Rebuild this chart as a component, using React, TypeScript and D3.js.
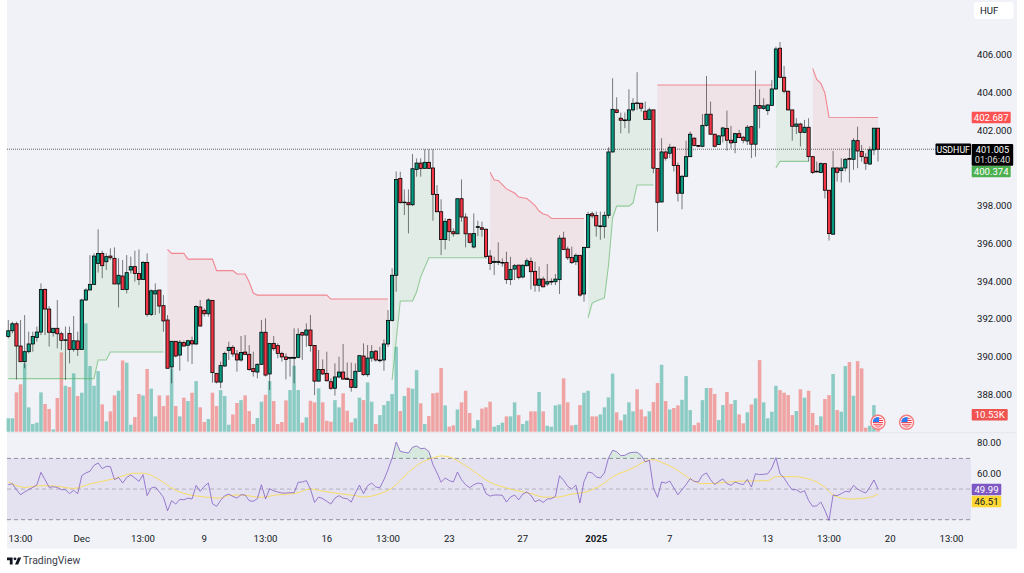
import React, { useMemo } from "react";
import * as d3 from "d3";

const opens = [
391.07,391.38,391.75,390.57,389.74,390.27,390.68,391.03,391.31,393.57,
392.53,391.28,391.51,391.22,390.87,391.24,390.39,390.84,390.39,393.01,
393.54,393.84,394.95,395.48,395.04,395.34,395.22,393.86,394.28,393.57,
394.60,394.78,394.42,394.10,395.00,392.25,393.33,393.54,392.71,391.95,
389.46,390.82,390.09,390.75,390.61,390.85,390.68,392.64,392.46,392.28,
392.99,389.12,388.66,389.51,390.34,390.50,390.15,389.83,390.25,390.13,
389.37,389.19,389.60,391.30,389.09,390.71,390.59,390.18,389.99,389.92,
389.92,389.97,391.28,391.15,391.42,390.60,388.71,389.33,389.12,388.68,
388.33,388.93,389.19,388.86,388.80,388.38,389.23,390.04,389.05,389.93,
390.30,389.79,389.83,390.68,391.93,394.32,399.46,398.17,398.17,398.06,
399.93,400.27,399.99,400.31,400.01,398.61,397.69,396.22,397.28,396.63,
396.52,398.38,397.41,396.52,395.82,396.86,396.84,396.76,395.34,395.00,
395.00,394.97,395.00,394.09,394.65,394.86,394.23,394.83,395.06,394.53,
393.79,394.12,393.86,393.96,393.98,394.09,396.29,395.71,395.27,395.04,
395.38,393.33,395.80,397.58,397.49,396.90,396.90,397.50,400.86,403.09,
402.65,402.52,402.54,403.09,403.46,403.44,403.02,402.58,403.09,399.98,
398.21,400.86,400.79,401.11,400.14,398.67,399.57,400.61,401.59,401.20,
401.16,402.27,402.86,401.80,401.25,401.71,402.11,401.48,401.36,401.83,
401.64,401.44,402.20,401.27,403.32,403.16,403.05,403.33,404.20,406.36,
404.82,404.08,403.09,402.22,402.34,401.90,402.17,400.61,399.84,399.77,
400.24,398.83,396.50,400.01,399.87,400.01,400.51,400.47,401.46,400.89,
400.58,400.22,400.97,402.12];

const closes = [
391.38,391.75,390.57,389.74,390.27,390.68,391.07,391.31,393.57,392.53,
391.30,391.51,391.22,390.87,390.90,390.39,390.85,390.39,393.01,393.54,
393.84,395.34,395.48,394.83,395.31,395.25,393.86,394.32,393.57,394.46,
394.78,394.42,394.10,395.00,392.25,393.50,393.50,392.69,391.90,389.39,
390.82,390.04,390.77,390.57,390.85,390.68,392.67,391.63,392.28,393.01,
389.16,388.66,389.53,390.18,390.50,390.15,389.83,390.23,390.13,389.32,
389.21,389.60,391.30,389.03,390.71,390.43,390.18,389.99,389.86,389.97,
389.97,391.19,391.15,391.42,390.59,388.71,389.33,389.09,388.73,388.33,
388.93,389.19,388.82,388.80,388.38,389.23,390.06,389.05,389.93,390.27,
389.83,389.83,390.68,391.93,394.32,399.40,398.17,398.20,398.06,399.97,
400.27,399.99,400.31,399.99,398.61,397.69,396.22,397.18,396.63,396.52,
398.38,397.41,396.52,396.07,396.54,396.90,396.76,395.32,394.95,395.06,
395.06,395.00,394.09,394.63,394.83,394.21,394.85,395.09,394.51,393.80,
394.12,393.71,393.98,394.00,394.12,396.29,395.69,395.25,394.99,395.38,
393.27,395.80,397.55,397.47,396.94,396.94,397.50,400.86,403.12,402.95,
402.54,402.56,403.09,403.44,403.44,403.18,402.58,403.09,400.00,398.19,
400.86,400.53,401.11,400.14,398.67,399.57,400.61,401.80,401.20,401.16,
402.27,402.86,401.80,401.16,401.71,402.13,401.48,401.34,401.83,401.62,
401.48,402.17,401.27,403.32,403.18,403.30,403.35,404.20,406.32,404.82,
404.08,403.09,402.22,402.34,401.90,402.17,400.61,399.77,399.80,400.24,
398.83,396.53,400.01,399.78,400.01,400.47,400.47,401.46,400.91,400.61,
400.26,400.97,402.12,401.005];

const highs = [
391.95,391.86,391.86,391.95,392.21,391.33,391.33,391.60,393.89,393.63,
392.69,391.51,393.01,391.33,391.60,391.60,392.16,391.33,393.08,393.63,
395.39,395.48,396.76,395.62,395.48,395.75,395.80,395.22,395.13,395.39,
395.31,395.62,395.69,395.08,395.48,393.57,393.89,393.54,393.27,392.21,
390.82,390.82,390.89,390.85,390.89,391.07,392.74,393.01,392.57,393.10,
393.01,389.12,389.74,390.27,390.80,390.62,390.36,391.10,391.15,390.62,
390.27,389.65,391.95,392.04,390.71,391.10,390.71,390.27,390.18,389.97,
391.51,391.51,391.33,391.77,392.21,390.62,390.36,389.86,390.27,388.86,
389.65,390.00,390.68,389.70,389.69,389.65,390.06,390.71,390.62,390.62,
390.36,390.53,390.92,392.48,394.69,399.83,399.81,398.87,398.87,400.75,
400.52,400.52,401.00,401.00,401.00,399.10,398.35,397.34,397.34,396.81,
398.40,399.40,397.60,396.54,397.60,397.21,397.16,396.81,395.66,395.30,
396.07,395.22,395.57,395.30,394.92,394.86,394.92,395.22,395.27,395.04,
394.78,394.25,394.92,394.16,394.39,396.45,396.63,395.84,395.84,395.48,
395.38,395.84,397.69,397.70,397.70,397.70,397.70,401.11,404.77,403.76,
402.95,402.95,404.18,403.71,405.09,403.48,403.53,403.21,403.09,399.98,
401.59,400.93,401.29,401.15,400.30,399.64,401.46,401.94,401.64,401.23,
402.87,404.89,403.53,401.82,401.76,402.20,403.05,402.24,401.88,402.03,
401.71,402.29,402.24,405.17,404.18,403.71,403.40,404.68,406.44,406.69,
405.42,404.11,403.09,402.65,402.41,402.56,402.65,400.65,400.35,400.31,
400.26,398.85,400.91,400.05,400.53,400.53,401.05,401.59,402.20,401.23,
400.79,401.15,402.12,402.12];

const lows = [
390.98,391.24,388.80,389.74,389.39,390.18,390.27,390.80,391.15,391.15,
390.54,391.07,390.45,390.36,388.77,389.65,390.27,390.04,390.36,392.96,
393.54,393.80,394.46,394.16,394.60,395.13,393.86,392.62,393.54,393.36,
394.42,393.98,393.80,394.07,392.13,392.16,392.21,392.30,391.33,389.39,
388.59,389.97,389.26,390.54,389.74,389.62,390.62,391.60,392.13,392.13,
388.63,388.59,388.33,389.47,389.83,390.00,389.21,389.74,390.09,389.26,
388.95,388.86,389.56,388.95,388.24,390.32,389.92,389.74,388.80,388.95,
388.59,389.92,389.83,390.53,390.27,387.97,388.68,389.03,388.68,388.24,
387.94,388.86,388.77,388.77,388.15,388.33,389.21,389.00,388.94,389.74,
389.74,389.70,389.26,390.53,391.86,393.45,398.13,397.51,396.54,397.99,
399.55,399.55,399.99,399.99,397.21,397.66,395.39,395.69,396.14,396.37,
396.51,397.16,395.80,396.01,395.75,396.40,396.37,395.22,394.60,394.33,
394.86,394.78,393.86,393.80,394.07,394.10,394.16,394.78,393.57,393.45,
393.45,393.68,393.75,393.80,393.80,393.33,395.66,395.13,394.92,394.86,
393.19,392.92,395.75,397.34,396.37,396.20,396.29,397.34,400.83,402.91,
401.85,402.12,401.85,403.00,403.09,403.00,402.56,402.56,399.73,396.64,
398.18,400.40,400.53,399.82,398.23,397.82,399.52,400.58,401.15,401.11,
401.11,402.20,401.76,401.11,401.23,401.36,400.93,401.05,400.79,401.59,
401.32,401.23,400.53,400.61,402.11,403.09,402.82,403.30,404.15,404.77,
403.97,403.05,401.46,401.81,401.15,401.85,400.35,399.69,399.77,399.73,
398.40,396.16,396.46,399.29,399.24,399.82,399.24,399.91,400.00,400.35,
399.91,400.17,400.70,400.35];

const volumes = [
8.3,8.3,24.4,29.4,42.4,15.1,4.8,5.6,24.4,17.2,
14.1,1.4,20.9,49.2,28.5,27.7,36.2,22.1,24.2,67.2,
40.7,28.5,37.6,16.9,6.4,12.6,22.5,25.4,44.2,42.8,
4.3,9.1,23.4,22.5,38.9,26.7,9.5,22.5,15.9,22.5,
39.3,15.9,9.5,21.1,19.0,24.2,31.4,15.1,6.0,7.9,
24.2,15.9,25.8,22.1,4.3,10.7,17.8,19.6,22.5,12.8,
4.8,8.5,18.6,22.9,31.4,19.0,4.8,6.0,19.4,25.8,
40.9,25.8,5.6,8.9,19.2,18.2,26.9,18.2,6.8,6.2,
19.6,15.1,23.8,13.0,5.8,8.3,21.1,19.6,30.6,18.6,
4.8,10.3,16.5,19.0,23.4,52.7,12.8,22.1,27.3,26.7,
38.2,17.6,4.8,9.7,23.8,24.2,39.5,16.3,3.1,3.9,
13.8,18.2,25.4,11.6,2.1,7.2,14.3,15.1,18.6,3.1,
4.1,5.6,9.5,9.5,18.2,10.3,4.8,6.8,12.6,12.6,
24.6,12.6,3.7,3.1,16.3,16.9,33.1,18.2,3.9,4.3,
16.5,24.2,25.4,9.5,9.5,10.7,15.1,21.3,36.0,12.0,
7.0,10.7,18.2,12.6,26.3,13.8,9.5,12.6,18.4,30.2,
41.5,19.0,13.8,14.7,16.3,19.8,34.5,13.4,4.1,5.6,
19.6,27.1,27.1,23.4,7.2,16.5,24.6,17.2,19.6,10.7,
5.2,12.0,16.9,20.7,44.4,18.2,8.3,12.4,28.5,25.8,
24.2,22.7,10.3,12.8,26.3,21.1,25.4,11.6,4.1,9.5,
20.3,22.7,35.8,13.4,12.4,40.7,43.2,22.3,43.8,39.3,
2.5,3.7,16.5,10.53];

const rsi = [
52.8,53.5,49.6,46.3,48.1,49.6,51.1,52.8,60.9,56.1,
51.1,51.5,51.1,49.6,49.6,47.0,49.1,47.0,58.7,60.5,
61.6,65.5,67.0,63.3,64.8,64.6,56.1,57.6,53.9,57.6,
59.2,57.2,55.0,59.4,45.7,50.7,51.3,48.1,44.6,35.8,
42.4,40.2,43.3,43.0,44.1,43.5,52.4,48.5,51.8,53.9,
40.4,38.7,42.6,45.7,46.7,45.2,44.1,46.3,46.1,42.4,
42.0,43.7,52.8,43.5,50.2,48.9,48.1,47.4,47.4,47.6,
47.6,54.4,54.6,55.5,50.0,41.3,44.8,43.7,42.0,40.2,
44.1,45.7,44.1,43.7,41.5,47.4,52.6,47.0,52.2,53.9,
51.3,50.9,56.1,62.7,70.3,80.7,74.6,74.0,73.5,77.3,
78.1,76.4,76.6,74.6,65.9,60.5,54.4,57.2,55.5,54.6,
61.1,56.1,52.8,50.9,52.8,53.9,53.5,47.0,45.4,46.1,
46.1,45.9,41.5,44.8,46.1,43.0,46.7,48.1,45.9,41.7,
43.0,41.3,43.5,43.7,45.2,58.7,55.7,51.8,50.0,52.6,
40.9,55.0,61.1,60.5,57.9,57.2,60.5,70.3,75.3,74.4,
71.8,72.0,73.5,74.0,74.0,72.0,67.7,68.8,50.7,44.6,
54.6,53.9,55.2,50.7,46.3,49.6,52.9,56.8,55.0,54.6,
59.0,60.5,56.1,52.9,55.0,56.6,53.5,52.4,54.6,53.5,
52.9,56.3,51.3,60.0,59.4,59.6,60.0,63.7,70.5,60.0,
57.2,52.9,49.6,49.6,47.8,48.9,42.6,38.7,39.1,41.5,
36.1,29.5,46.1,45.7,47.0,48.5,48.1,52.4,50.0,48.5,
47.4,51.3,55.9,49.99];

const rsiMaBars = [0,4,8,12,16,20,26,31,33,38,40,45,47,52,54,57,62,66,70,74,77,81,85,87,91,94,98,101,104,106,108,112,118,123,128,131,134,138,141,146,148,153,156,158,160,163,165,167,170,174,178,186,188,192,196,200,202,206,210,213];
const rsiMaValues = [54.6,51.1,52.2,51.8,50.4,53.3,56.8,60.3,60.3,54.4,50.7,45.9,45.2,44.1,45.7,46.1,44.6,46.3,47.0,50.0,48.7,47.0,45.7,44.8,47.0,50.7,60.9,67.0,70.3,71.6,70.9,65.3,54.4,50.0,47.0,44.8,44.6,46.7,47.8,53.9,57.9,63.7,68.1,69.2,67.4,63.7,60.3,56.6,53.5,53.9,55.0,55.5,58.1,58.1,56.6,51.1,46.1,43.5,44.1,46.51];

// Supertrend runs: bar indices and the values read at those bars
const trendUp1Bars = [0,21,22,24,25,38];
const trendUp1 = [388.84,388.84,389.83,389.83,390.25,390.25];
const trendDown1Bars = [39,40,43,44,50,51,55,56,58,59,60,61,78,79,93];
const trendDown1 = [395.69,395.48,395.48,395.18,395.18,394.57,394.57,394.39,394.39,393.96,393.38,393.27,393.27,393.06,393.06];
const trendUp2Bars = [94,96,99,100,101,103,117];
const trendUp2 = [388.77,392.96,392.96,393.43,394.24,395.25,395.25];
const trendDown2Bars = [118,119,120,122,123,124,125,127,128,129,130,131,132,133,141];
const trendDown2 = [399.78,399.37,399.35,398.90,398.79,398.68,398.47,398.39,398.21,398.02,397.73,397.57,397.52,397.33,397.33];
const trendUp3Bars = [142,143,144,146,147,148,149,152,153,154,158];
const trendUp3 = [392.07,392.85,392.96,393.12,394.85,397.36,397.99,397.99,398.15,399.11,399.11];
const trendDown3Bars = [159,187];
const trendDown3 = [404.41,404.41];
const trendUp4Bars = [188,189,196];
const trendUp4 = [400.02,400.36,400.36];
const trendDown4Bars = [197,198,199,200,201,213];
const trendDown4 = [405.29,404.71,404.50,403.99,402.70,402.687];

const priceTicks = [388, 390, 392, 394, 396, 398, 402, 404, 406];
const rsiTicks = [60, 80];
const rsiBands = [30, 50, 70];
const timeTickBars = [3, 18, 33, 48, 63, 78, 93, 108, 126, 144, 162, 186, 201, 216, 231];
const timeTickLabels = ["13:00", "Dec", "13:00", "9", "13:00", "16", "13:00", "23", "27", "2025", "7", "13", "13:00", "20", "13:00"];
const boldTicks = ["2025"];
const eventBars = [213, 220];

const FONT = "Roboto, 'Liberation Sans', sans-serif";
const TXT = "#131722";
const UP = "#089981";
const DOWN = "#F23645";

const W = 1024;
const H = 573;
const PLOT_L = 7;
const PLOT_R = 971;
const AXIS_R = 1017;
const PANE_B = 432.7;
const BOTTOM = 548.7;

export default function App() {
  const x = useMemo(() => d3.scaleLinear().domain([0, 213]).range([8.3, 878]), []);
  const y = useMemo(() => d3.scaleLinear().domain([388, 406]).range([394.5, 55]), []);
  const yVol = useMemo(() => d3.scaleLinear().domain([0, 60]).range([431.7, 335]), []);
  const yRsi = useMemo(() => d3.scaleLinear().domain([30, 70]).range([519.7, 458.4]), []);

  const lineP = d3.line<[number, number]>().x((d) => x(d[0])).y((d) => y(d[1]));
  const trends: { bars: number[]; vals: number[]; up: boolean }[] = [
    { bars: trendUp1Bars, vals: trendUp1, up: true },
    { bars: trendDown1Bars, vals: trendDown1, up: false },
    { bars: trendUp2Bars, vals: trendUp2, up: true },
    { bars: trendDown2Bars, vals: trendDown2, up: false },
    { bars: trendUp3Bars, vals: trendUp3, up: true },
    { bars: trendDown3Bars, vals: trendDown3, up: false },
    { bars: trendUp4Bars, vals: trendUp4, up: true },
    { bars: trendDown4Bars, vals: trendDown4, up: false },
  ];

  const rsiLine = d3.line<number>().x((_, i) => x(i)).y((d) => yRsi(d));
  const maLine = d3.line<number>().x((_, i) => x(rsiMaBars[i])).y((d) => yRsi(d)).curve(d3.curveMonotoneX);
  const overArea = d3.area<number>().x((_, i) => x(i)).y0(yRsi(70)).y1((d) => yRsi(Math.max(d, 70)));
  const underArea = d3.area<number>().x((_, i) => x(i)).y0(yRsi(30)).y1((d) => yRsi(Math.min(d, 30)));

  const label = (txt: string, yy: number, bg: string, w: number, fg = "#fff", h = 11.6) => (
    <g>
      <rect x={PLOT_R + 0.7} y={yy - h / 2} width={w} height={h} rx={1} fill={bg} />
      <text x={PLOT_R + 0.7 + w / 2} y={yy + 3.3} textAnchor="middle" fontSize={9.6} fill={fg}>{txt}</text>
    </g>
  );

  return (
    <svg width={W} height={H} viewBox={`0 0 ${W} ${H}`} fontFamily={FONT}
      style={{ position: "absolute", left: 0, top: 0, background: "#fff", display: "block" }}>
      <defs>
        <clipPath id="flagClip"><circle r={5.4} /></clipPath>
      </defs>
      <rect x={PLOT_L} y={0} width={AXIS_R - PLOT_L} height={BOTTOM} fill="#F0F2F7" />
      <line x1={PLOT_L} x2={AXIS_R} y1={PANE_B} y2={PANE_B} stroke="#E4E6EC" />

      {/* trend fills */}
      {trends.map((t, k) => {
        const first = t.bars[0];
        const last = t.bars[t.bars.length - 1];
        const top = lineP(t.bars.map((b, i) => [b, t.vals[i]] as [number, number]));
        const mids: [number, number][] = d3.range(last, first - 1, -1).map((b) => [b, (opens[b] + closes[b]) / 2]);
        const back = lineP(mids)!.replace(/^M/, "L");
        return <path key={k} d={`${top}${back}Z`} fill={t.up ? "#4CAF50" : "#F23645"} fillOpacity={t.up ? 0.09 : 0.08} />;
      })}

      {/* volume */}
      {volumes.map((v, i) => (
        <rect key={i} x={x(i) - 1.75} width={3.5} y={yVol(v)} height={yVol(0) - yVol(v)}
          fill={closes[i] >= opens[i] ? UP : "#EF5350"} fillOpacity={closes[i] >= opens[i] ? 0.44 : 0.5} />
      ))}

      {/* trend lines */}
      {trends.map((t, k) => (
        <path key={k} d={lineP(t.bars.map((b, i) => [b, t.vals[i]] as [number, number]))!} fill="none"
          stroke={t.up ? "#4CAF50" : "#F23645"} strokeOpacity={0.55} strokeWidth={1.1} />
      ))}

      {/* price line */}
      <line x1={PLOT_L} x2={PLOT_R} y1={y(closes[213])} y2={y(closes[213])} stroke="#555" strokeDasharray="1 1" strokeWidth={0.9} />

      {/* candles */}
      {opens.map((o, i) => {
        const c = closes[i];
        const top = y(Math.max(o, c));
        const bot = y(Math.min(o, c));
        return (
          <g key={i}>
            <line x1={x(i)} x2={x(i)} y1={y(highs[i])} y2={y(lows[i])} stroke="#000" strokeOpacity={0.5} strokeWidth={1} />
            <rect x={x(i) - 1.6} width={3.2} y={top} height={Math.max(bot - top, 0.6)} fill={c >= o ? UP : DOWN} stroke="#000" strokeWidth={0.8} />
          </g>
        );
      })}

      {/* events */}
      {eventBars.map((b) => (
        <g key={b} transform={`translate(${x(b)},422.3)`}>
          <circle r={7} fill="#fff" stroke="#F77C80" strokeWidth={1.5} />
          <g clipPath="url(#flagClip)">
            <rect x={-5.4} y={-5.4} width={10.8} height={10.8} fill="#fff" />
            {[-4.6, -2.4, -0.2, 2, 4.2].map((s) => (
              <rect key={s} x={-5.4} y={s} width={10.8} height={1.1} fill="#F23645" />
            ))}
            <rect x={-5.4} y={-5.4} width={6.4} height={5.2} fill="#2E7CF6" />
          </g>
        </g>
      ))}

      {/* RSI */}
      <rect x={PLOT_L} width={PLOT_R - PLOT_L} y={yRsi(70)} height={yRsi(30) - yRsi(70)} fill="#7E57C2" fillOpacity={0.1} />
      {rsiBands.map((b) => (
        <line key={b} x1={PLOT_L} x2={PLOT_R} y1={yRsi(b)} y2={yRsi(b)} stroke="#787B86"
          strokeOpacity={b === 50 ? 0.6 : 1} strokeWidth={0.8} strokeDasharray="4 3" />
      ))}
      <path d={overArea(rsi)!} fill="#4CAF50" fillOpacity={0.15} />
      <path d={underArea(rsi)!} fill="#F23645" fillOpacity={0.15} />
      <path d={maLine(rsiMaValues)!} fill="none" stroke="#FDD835" strokeOpacity={0.75} strokeWidth={1} />
      <path d={rsiLine(rsi)!} fill="none" stroke="#7E57C2" strokeOpacity={0.75} strokeWidth={1} />

      {/* price axis */}
      {priceTicks.map((t) => (
        <text key={t} x={977} y={y(t) + 3.3} fontSize={9.6} fill={TXT}>{t.toFixed(3)}</text>
      ))}
      {rsiTicks.map((t) => (
        <text key={t} x={977} y={yRsi(t) + 3.3} fontSize={9.6} fill={TXT}>{t.toFixed(2)}</text>
      ))}

      {/* time axis */}
      {timeTickBars.map((b, i) => (
        <text key={b} x={x(b)} y={541.5} textAnchor="middle" fontSize={9.6} fill={TXT}
          fontWeight={boldTicks.includes(timeTickLabels[i]) ? 700 : 400}>{timeTickLabels[i]}</text>
      ))}

      {/* last-value labels */}
      {label("402.687", y(402.687), "#FF5252", 39)}
      {label("400.374", 171.5, "#4CAF50", 39)}
      <rect x={935.5} y={143.6} width={35.5} height={11.4} rx={1} fill="#000" />
      <text x={953.2} y={152.6} textAnchor="middle" fontSize={8.8} fill="#fff">USDHUF</text>
      <rect x={PLOT_R + 0.7} y={144} width={41.5} height={21.7} rx={1} fill="#000" />
      <text x={992.5} y={152.8} textAnchor="middle" fontSize={9.2} fill="#fff">401.005</text>
      <text x={992.5} y={162.6} textAnchor="middle" fontSize={9.2} fill="#ddd">01:06:40</text>
      {label("10.53K", 414.8, "#EF5350", 36)}
      {label("49.99", 489.5, "#7E57C2", 29.6)}
      {label("46.51", 501.5, "#FDD835", 29.6, TXT)}

      {/* currency button */}
      <rect x={974} y={2} width={39.5} height={17} rx={3} fill="#fff" />
      <text x={980} y={13.8} fontSize={9.6} fill={TXT}>HUF</text>

      {/* logo */}
      <g transform="translate(7,555.8) scale(0.4)" fill="#131722">
        <path d="M14 22H7V11H0V4h14v18zM28 22h-8l7.5-18h8L28 22z" />
        <circle cx={20} cy={7.6} r={3.6} />
      </g>
      <text x={23} y={564} fontSize={10.4} fill="#3a3e4a">TradingView</text>
    </svg>
  );
}
